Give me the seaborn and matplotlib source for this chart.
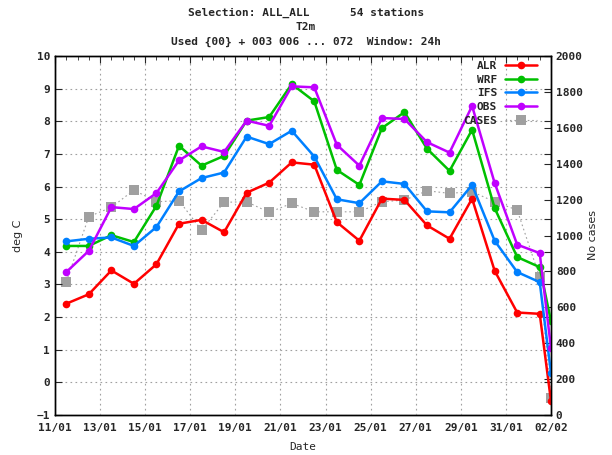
import matplotlib
matplotlib.use('Agg')
import matplotlib.pyplot as plt
import matplotlib.dates as mdates
import seaborn as sns
import pandas as pd

# verification times: 12h each day from 11/01 to 01/02, then 02/02 00h
times = list(pd.date_range('2015-01-11 12:00', '2015-02-01 12:00', freq='D')) + [pd.Timestamp('2015-02-02 00:00')]

alr = [2.41, 2.70, 3.43, 3.02, 3.62, 4.86, 4.98, 4.60, 5.81, 6.12, 6.74, 6.67,
       4.91, 4.34, 5.63, 5.59, 4.81, 4.40, 5.63, 3.42, 2.14, 2.10, -0.58]
wrf = [4.18, 4.18, 4.51, 4.30, 5.41, 7.25, 6.64, 6.94, 8.02, 8.13, 9.14, 8.61,
       6.51, 6.05, 7.79, 8.28, 7.16, 6.48, 7.74, 5.34, 3.84, 3.53, 1.87]
ifs = [4.32, 4.40, 4.44, 4.18, 4.76, 5.85, 6.26, 6.43, 7.53, 7.30, 7.71, 6.92,
       5.61, 5.49, 6.16, 6.08, 5.24, 5.21, 6.05, 4.34, 3.38, 3.07, 0.28]
obs = [3.38, 4.03, 5.37, 5.31, 5.80, 6.80, 7.23, 7.06, 8.02, 7.86, 9.07, 9.04,
       7.28, 6.64, 8.10, 8.07, 7.36, 7.04, 8.47, 6.11, 4.22, 3.96, 1.05]
cases = [742, 1105, 1157, 1253, 1188, 1194, 1030, 1185, 1188, 1129, 1179, 1132,
         1132, 1132, 1188, 1197, 1249, 1235, 1244, 1188, 1142, 767, 93]

names = ['ALR', 'WRF', 'IFS', 'OBS']
colors = ['#ff0000', '#00c000', '#0080ff', '#c000ff']

sns.set_style('white')
plt.rcParams['font.family'] = ['DejaVu Sans Mono', 'DejaVu Sans']
plt.rcParams['font.weight'] = 'bold'
plt.rcParams['font.size'] = 8

fig = plt.figure(figsize=(6.12, 4.55), dpi=100)
ax = fig.add_axes([55 / 612, 40 / 455, 496 / 612, 359 / 455])
ax2 = ax.twinx()

df = pd.DataFrame({'time': times, 'ALR': alr, 'WRF': wrf, 'IFS': ifs, 'OBS': obs, 'CASES': cases})

handles = []
for name, col in zip(names, colors):
    sns.lineplot(data=df, x='time', y=name, ax=ax, color=col, lw=1.8,
                 marker='o', markersize=5.5, markeredgewidth=0, label=name, legend=False)
    handles.append(ax.lines[-1])

sns.lineplot(data=df, x='time', y='CASES', ax=ax2, color='#a0a0a0', lw=0.8,
             linestyle=(0, (1.5, 2.5)), marker='s', markersize=6.5, markeredgewidth=0,
             label='CASES', legend=False)
handles.append(ax2.lines[-1])

ax.set_xlim(pd.Timestamp('2015-01-11'), pd.Timestamp('2015-02-02'))
ax.set_ylim(-1, 10)
ax.set_yticks(range(-1, 11))
ax2.set_ylim(0, 2000)
ax2.set_yticks(range(0, 2001, 200))

ax.xaxis.set_major_locator(mdates.DayLocator(interval=2))
ax.xaxis.set_minor_locator(mdates.HourLocator(byhour=[0, 12]))
ax.xaxis.set_major_formatter(mdates.DateFormatter('%d/%m'))

ax.grid(True, which='major', color='#a0a0a0', linestyle=(0, (1.5, 3)), lw=0.8)
ax.tick_params(axis='both', which='both', direction='in', top=True, right=True, labelsize=8)
ax.tick_params(axis='x', which='major', length=5, pad=6)
ax.tick_params(axis='x', which='minor', length=3)
ax.tick_params(axis='y', length=5)
ax2.tick_params(axis='y', direction='in', length=5, labelsize=8)

for a in (ax, ax2):
    for s in a.spines.values():
        s.set_color('black')
        s.set_linewidth(1)

ax.set_xlabel('Date', fontsize=8, labelpad=6)
ax.set_ylabel('deg C', fontsize=8, family='DejaVu Sans', labelpad=10)
ax2.set_ylabel('No cases', fontsize=8, family='DejaVu Sans', labelpad=4)

fig.text(0.5, 0.972, 'Selection: ALL_ALL      54 stations', ha='center', va='center', fontsize=8)
fig.text(0.5, 0.940, 'T2m', ha='center', va='center', fontsize=8)
fig.text(0.5, 0.907, 'Used {00} + 003 006 ... 072  Window: 24h', ha='center', va='center', fontsize=8)

leg = ax.legend(handles, ['ALR', 'WRF', 'IFS', 'OBS', 'CASES'], loc='upper right',
                bbox_to_anchor=(0.985, 1.005), markerfirst=False, frameon=False, fontsize=8,
                handlelength=2.9, labelspacing=0.33, borderaxespad=0.3, borderpad=0.3,
                handletextpad=0.7)
ax.set_zorder(ax2.get_zorder() + 1)
ax.patch.set_visible(False)

fig.savefig('out.png', dpi=100)
